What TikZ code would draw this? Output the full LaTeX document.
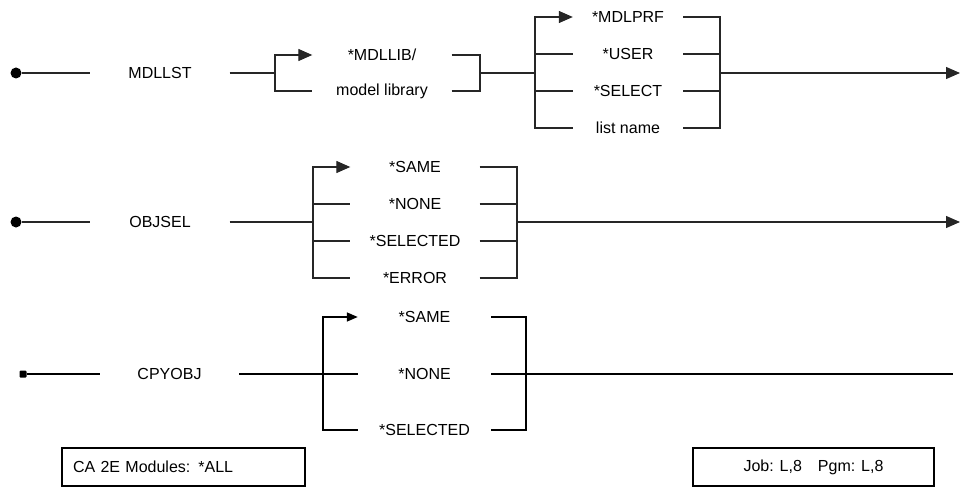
\documentclass[tikz,border=0pt]{standalone}
\usepackage{fontspec}
\setmainfont{Liberation Sans}
\usetikzlibrary{arrows.meta,positioning}

\begin{document}
\begin{tikzpicture}[x=1pt,y=-1pt,
  every node/.style={font=\fontsize{16}{19}\selectfont,inner sep=0pt},
  parm/.style={minimum width=139pt,minimum height=38pt},
  value/.style={minimum height=30pt},
  rail/.style={draw=black!85,line width=1.3pt},
  to/.style={rail,-{Triangle[length=14pt,width=12pt]}},
  rail3/.style={draw=black,line width=1.5pt},
  to3/.style={rail3,-{Triangle[length=11pt,width=9pt]}},
  start/.style={circle,fill=black,minimum size=11pt},
  start3/.style={rectangle,rounded corners=1pt,fill=black,minimum size=7pt},
  footer/.style={draw,line width=1.3pt,minimum height=38pt}]

  \useasboundingbox (0,0) rectangle (961,487);

  \node[start](s1) at (16,73) {};
  \node[parm](mdllst) at (160,73) {MDLLST};
  \coordinate (j1) at (275,73);
  \coordinate (j1r) at (480,73);
  \node[value,minimum width=139pt](mdllib) at (382,55) {*MDLLIB/};
  \node[value,minimum width=139pt](modlib) at (382,91) {model library};
  \coordinate (j2) at (535,73);
  \coordinate (j2r) at (720,73);
  \coordinate (e1) at (960,73);

  \draw[rail](s1) -- (mdllst);
  \draw[rail](mdllst) -- (j1);
  \draw[to](j1) |- (mdllib);
  \draw[rail](j1) |- (modlib);
  \draw[rail](mdllib) -| (j1r);
  \draw[rail](modlib) -| (j1r);
  \draw[rail](j1r) -- (j2);

  \node[value,minimum width=110pt](mdlprf) at (628,17) {*MDLPRF};
  \draw[to](j2) |- (mdlprf);
  \draw[rail](mdlprf) -| (j2r);
  \foreach \name/\txt/\y in {user/*USER/54,select/*SELECT/91,lstnam/list name/128} {
    \node[value,minimum width=110pt](\name) at (628,\y) {\txt};
    \draw[rail](j2) |- (\name);
    \draw[rail](\name) -| (j2r);
  }
  \draw[to](j2r) -- (e1);

  \node[start](s2) at (16,222) {};
  \node[parm](objsel) at (160,222) {OBJSEL};
  \coordinate (j3) at (313,222);
  \coordinate (j3r) at (517,222);
  \coordinate (e2) at (960,222);

  \draw[rail](s2) -- (objsel);
  \draw[rail](objsel) -- (j3);
  \node[value,minimum width=129pt](same) at (415,167) {*SAME};
  \draw[to](j3) |- (same);
  \draw[rail](same) -| (j3r);
  \foreach \name/\txt/\y in {none/*NONE/204,selected/*SELECTED/241,error/*ERROR/278} {
    \node[value,minimum width=129pt](\name) at (415,\y) {\txt};
    \draw[rail](j3) |- (\name);
    \draw[rail](\name) -| (j3r);
  }
  \draw[to](j3r) -- (e2);

  \node[start3](s3) at (23,374) {};
  \node[parm](cpyobj) at (169.5,374) {CPYOBJ};
  \coordinate (j4) at (323,374);
  \coordinate (j4r) at (526,374);
  \coordinate (e3) at (953,374);

  \draw[rail3](s3) -- (cpyobj);
  \draw[rail3](cpyobj) -- (j4);
  \node[value,minimum width=133pt](csame) at (424.5,317) {*SAME};
  \draw[to3](j4) |- (csame);
  \draw[rail3](csame) -| (j4r);
  \foreach \name/\txt/\y in {cnone/*NONE/374,cselected/*SELECTED/430} {
    \node[value,minimum width=133pt](\name) at (424.5,\y) {\txt};
    \draw[rail3](j4) |- (\name);
    \draw[rail3](\name) -| (j4r);
  }
  \draw[rail3](j4r) -- (e3);

  \node[footer,text width=221pt,inner xsep=11pt,align=left](modules) at (183.5,467) {CA 2E Modules: *ALL};
  \node[footer,minimum width=241pt](mode) at (813.5,467) {Job: L,8\quad Pgm: L,8};
\end{tikzpicture}
\end{document}
